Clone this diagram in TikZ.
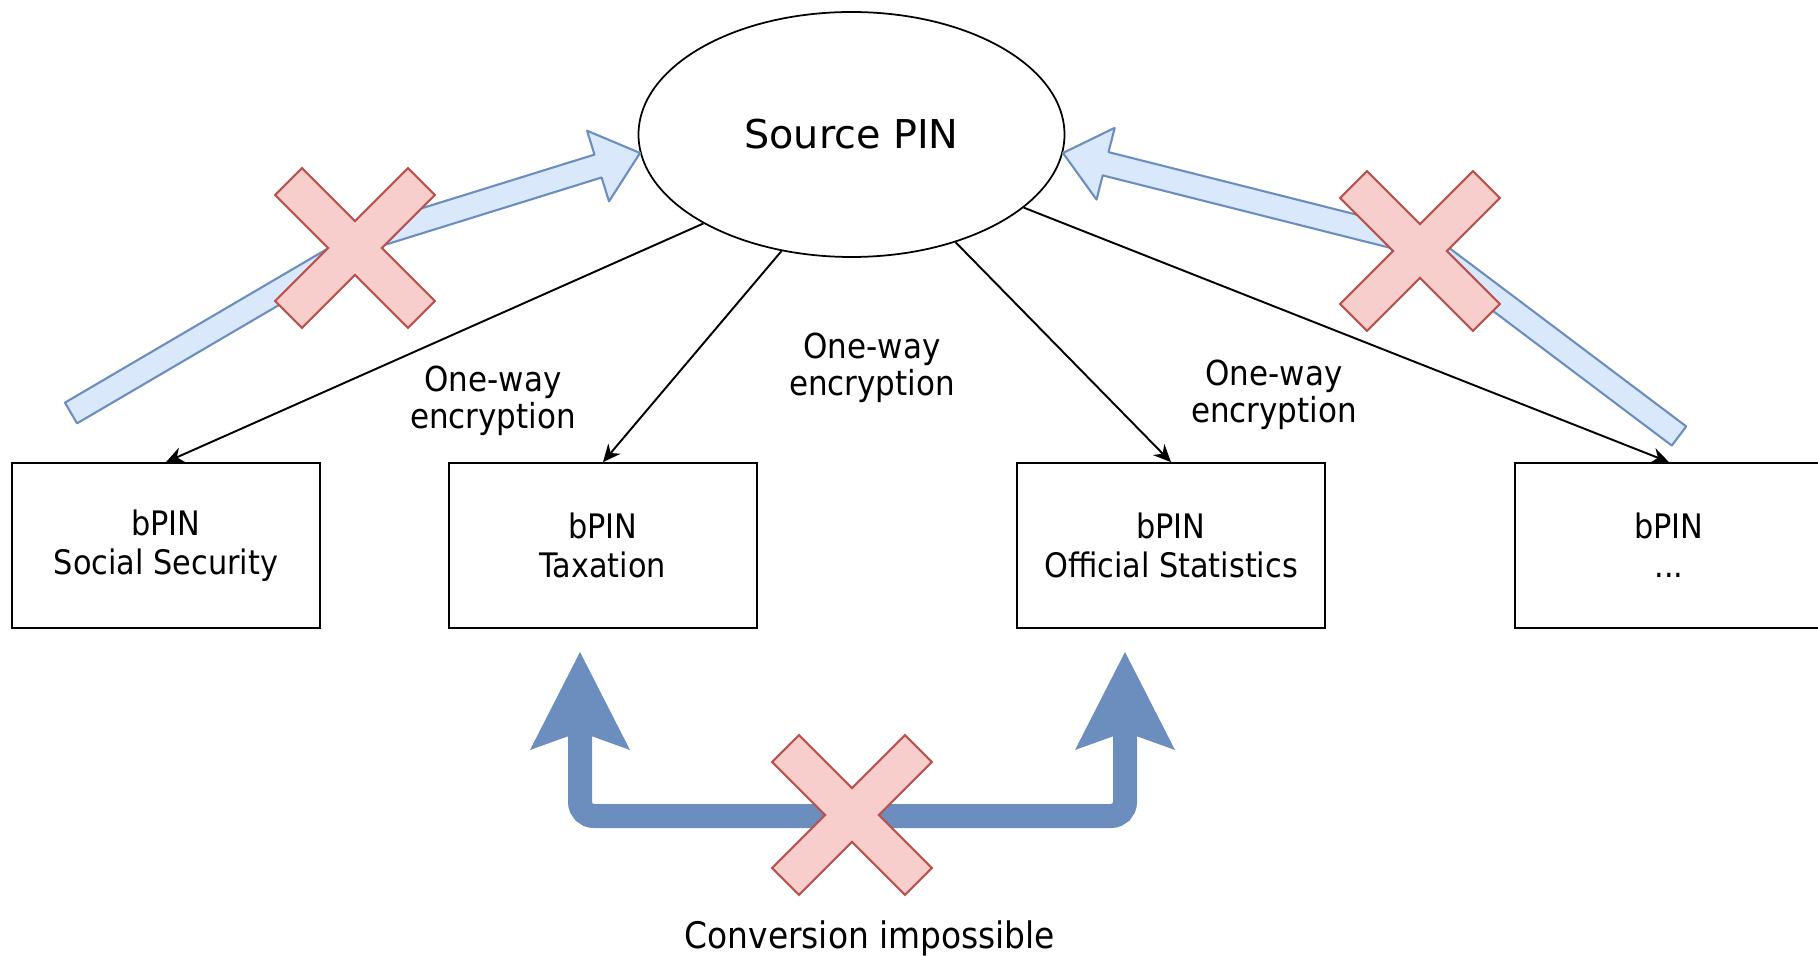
\documentclass[tikz,border=0pt]{standalone}
\usepackage{fontspec}
\setmainfont{DejaVu Sans}
\newfontfamily\condensed{DejaVu Sans Condensed}
\usetikzlibrary{arrows.meta,calc,shapes.geometric}

\definecolor{flexfill}{HTML}{DAE8FC}
\definecolor{flexline}{HTML}{6C8EBF}
\definecolor{crossfill}{HTML}{F8CECC}
\definecolor{crossline}{HTML}{B85450}

% hollow block arrow with one bend: name, tail, bend, tip
\newcommand{\flexarrow}[4]{%
  \coordinate (#1-base) at ($(#4)!0.44cm!(#3)$);
  \filldraw[fill=flexfill, draw=flexline, line width=0.6pt, line join=round]
    ($(#2)!0.12cm!90:(#3)$) -- ($(#3)!0.12cm!-90:(#2)$) -- ($(#3)!0.12cm!90:(#4)$)
    -- ($(#1-base)!0.12cm!90:(#4)$) -- ($(#1-base)!0.37cm!90:(#4)$) -- (#4)
    -- ($(#1-base)!0.37cm!-90:(#4)$) -- ($(#1-base)!0.12cm!-90:(#4)$)
    -- ($(#3)!0.12cm!-90:(#4)$) -- ($(#3)!0.12cm!90:(#2)$)
    -- ($(#2)!0.12cm!-90:(#3)$) -- cycle;
}

\tikzset{
  nocross/.pic={
    \filldraw[fill=crossfill, draw=crossline, line width=0.6pt, rotate=45]
      (-0.19,-0.94) -- (0.19,-0.94) -- (0.19,-0.19) -- (0.94,-0.19) -- (0.94,0.19)
      -- (0.19,0.19) -- (0.19,0.94) -- (-0.19,0.94) -- (-0.19,0.19) -- (-0.94,0.19)
      -- (-0.94,-0.19) -- (-0.19,-0.19) -- cycle;
  }
}

\begin{document}
\begin{tikzpicture}[
  src/.style={ellipse, draw, line width=0.5pt, minimum width=4.26cm, minimum height=2.45cm,
    inner sep=0pt, font=\fontsize{11.3}{13}\selectfont},
  bpin/.style={rectangle, draw, line width=0.5pt, minimum width=3.08cm, minimum height=1.65cm,
    align=center, font=\condensed\fontsize{9.6}{11.1}\selectfont},
  lbl/.style={align=center, inner sep=0pt, font=\condensed\fontsize{9.8}{10.5}\selectfont},
  edge/.style={-{Stealth[length=5pt, width=4.5pt]}, line width=0.55pt},
  convert/.style={{Stealth[length=0.98cm, width=1cm, inset=0.18cm, line width=0pt]}-{Stealth[length=0.98cm, width=1cm, inset=0.18cm, line width=0pt]},
    draw=flexline, line width=0.24cm, rounded corners=0.14cm}
]
\useasboundingbox (0,0) rectangle (18.18,-9.56);

\node[src] (src) at (8.515,-1.345) {Source PIN};
\node[bpin] (social) at (1.66,-5.455) {bPIN\\Social Security};
\node[bpin] (tax) at (6.03,-5.455) {bPIN\\Taxation};
\node[bpin] (stats) at (11.71,-5.455) {bPIN\\Official Statistics};
\node[bpin] (other) at (16.69,-5.455) {bPIN\\...};

\draw[edge] (src.-149.5) -- (social.north);
\draw[edge] (src.-121) -- (tax.north);
\draw[edge] (src.-46) -- (stats.north);
\draw[edge] (src.-23) -- (other.north);

\node[lbl] (enc1) at (4.93,-4.01) {One-way\\encryption};
\node[lbl] (enc2) at (8.72,-3.68) {One-way\\encryption};
\node[lbl] (enc3) at (12.74,-3.95) {One-way\\encryption};

% reverse lookups that do not work
\coordinate (ltail) at (0.71,-4.13);
\coordinate (lbend) at (3.73,-2.36);
\coordinate (rtail) at (16.79,-4.36);
\coordinate (rbend) at (14.24,-2.44);
\flexarrow{la}{ltail}{lbend}{src.185}
\flexarrow{ra}{rtail}{rbend}{src.-5.5}
\pic at (3.55,-2.48) {nocross};
\pic at (14.20,-2.51) {nocross};

% no way from one bPIN to another
\coordinate (convL) at (5.80,-6.52);
\coordinate (convR) at (11.25,-6.52);
\draw[convert] (convL) -- (5.80,-8.16) -- (11.25,-8.16) -- (convR);
\pic at (8.52,-8.15) {nocross};
\node[font=\condensed\fontsize{10.4}{12}\selectfont] (impossible) at (8.70,-9.38) {Conversion impossible};
\end{tikzpicture}
\end{document}
